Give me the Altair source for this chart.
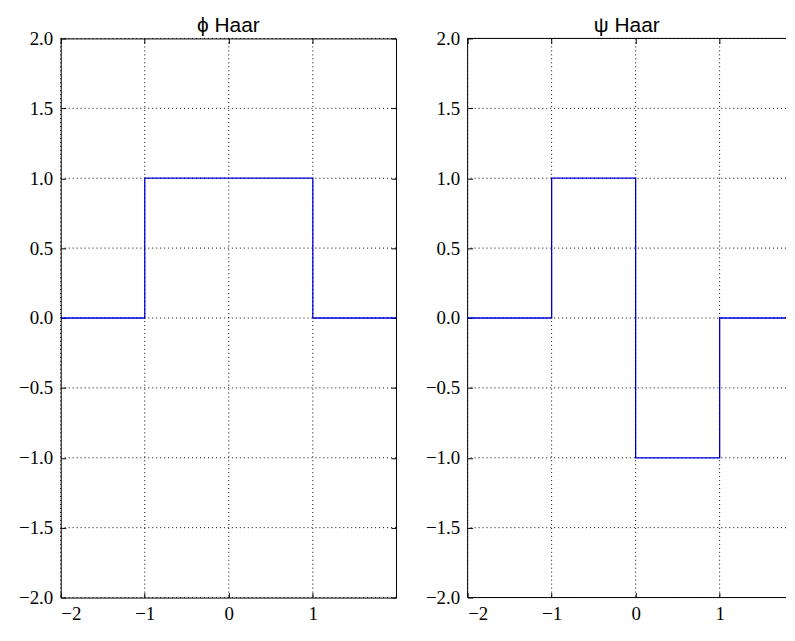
import altair as alt
import pandas as pd

# ---- data ----
phi_x = [-2.0, -1.0, -1.0, 1.0, 1.0, 1.99]
phi_y = [0.0, 0.0, 1.0, 1.0, 0.0, 0.0]
psi_x = [-2.0, -1.0, -1.0, 0.0, 0.0, 1.0, 1.0, 1.99]
psi_y = [0.0, 0.0, 1.0, 1.0, -1.0, -1.0, 0.0, 0.0]
x_ticks = [-2, -1, 0, 1]
y_ticks = [-2.0, -1.5, -1.0, -0.5, 0.0, 0.5, 1.0, 1.5, 2.0]
titles = ["ϕ Haar", "ψ Haar"]

LABEL_FONT = "Liberation Serif"
LABEL_SIZE = 19
PLOT_H = 562


def panel(xs, ys, title, width, xmax, right_frame):
    df = pd.DataFrame({"x": xs, "y": ys, "i": list(range(len(xs)))})
    xscale = alt.Scale(domain=[x_ticks[0], xmax], nice=False, zero=False)
    yscale = alt.Scale(domain=[y_ticks[0], y_ticks[-1]], nice=False, zero=False)
    tk = dict(offset=-5, tickSize=5, tickColor="black", tickWidth=1,
              domain=False, grid=False, title=None)
    lab = dict(labelFont=LABEL_FONT, labelFontSize=LABEL_SIZE, labelColor="black")

    line = alt.Chart(df).mark_line(color="#0000ff", strokeWidth=1.3, clip=True).encode(
        x=alt.X("x:Q", scale=xscale,
                axis=alt.Axis(orient="bottom", values=x_ticks, format="d",
                              labelPadding=7, **lab, **tk)),
        y=alt.Y("y:Q", scale=yscale,
                axis=alt.Axis(orient="left", values=y_ticks, format=".1f",
                              labelPadding=8, minExtent=57, maxExtent=57, **lab, **tk)),
        order="i:Q",
    )
    if right_frame:
        yax = alt.Axis(orient="right", values=y_ticks, labels=False,
                       minExtent=0, maxExtent=0, **tk)
    else:
        yax = None
    ticks = alt.Chart(df).mark_point(opacity=0, clip=True).encode(
        x=alt.X("x:Q", scale=xscale,
                axis=alt.Axis(orient="top", values=x_ticks, labels=False,
                              minExtent=0, maxExtent=0, **tk)),
        y=alt.Y("y:Q", scale=yscale, axis=yax),
    )
    grid_style = dict(color="black", strokeWidth=1, strokeDash=[1, 3])
    vgrid = alt.Chart(pd.DataFrame({"t": x_ticks})).mark_rule(**grid_style).encode(
        x=alt.X("t:Q", scale=xscale, axis=None))
    hgrid = alt.Chart(pd.DataFrame({"t": y_ticks})).mark_rule(**grid_style).encode(
        y=alt.Y("t:Q", scale=yscale, axis=None))
    layers = [line, ticks, vgrid, hgrid]

    if right_frame:
        view = alt.ViewBackground(stroke="black", strokeWidth=1)
    else:
        view = alt.ViewBackground(stroke="transparent")
        frame_style = dict(color="black", strokeWidth=1)
        hframe = alt.Chart(pd.DataFrame({"t": [y_ticks[0], y_ticks[-1]]})).mark_rule(
            **frame_style).encode(y=alt.Y("t:Q", scale=yscale, axis=None))
        vframe = alt.Chart(pd.DataFrame({"t": [x_ticks[0]]})).mark_rule(
            **frame_style).encode(x=alt.X("t:Q", scale=xscale, axis=None))
        layers += [hframe, vframe]

    return alt.layer(*layers).resolve_axis(
        x="independent", y="independent"
    ).properties(
        width=width, height=PLOT_H, view=view,
        title=alt.TitleParams(title, font="Liberation Sans", fontSize=21,
                              fontWeight="normal", color="black", offset=-7),
    )


left = panel(phi_x, phi_y, titles[0], 337, 1.99, True)
right = panel(psi_x, psi_y, titles[1], 320, 1.79, False)

chart = alt.hconcat(left, right, spacing=18).properties(
    padding={"top": 5, "left": 0, "right": 0, "bottom": 0},
    background="white",
)

chart.save("out.html", embed_options={"renderer": "svg", "actions": False})
